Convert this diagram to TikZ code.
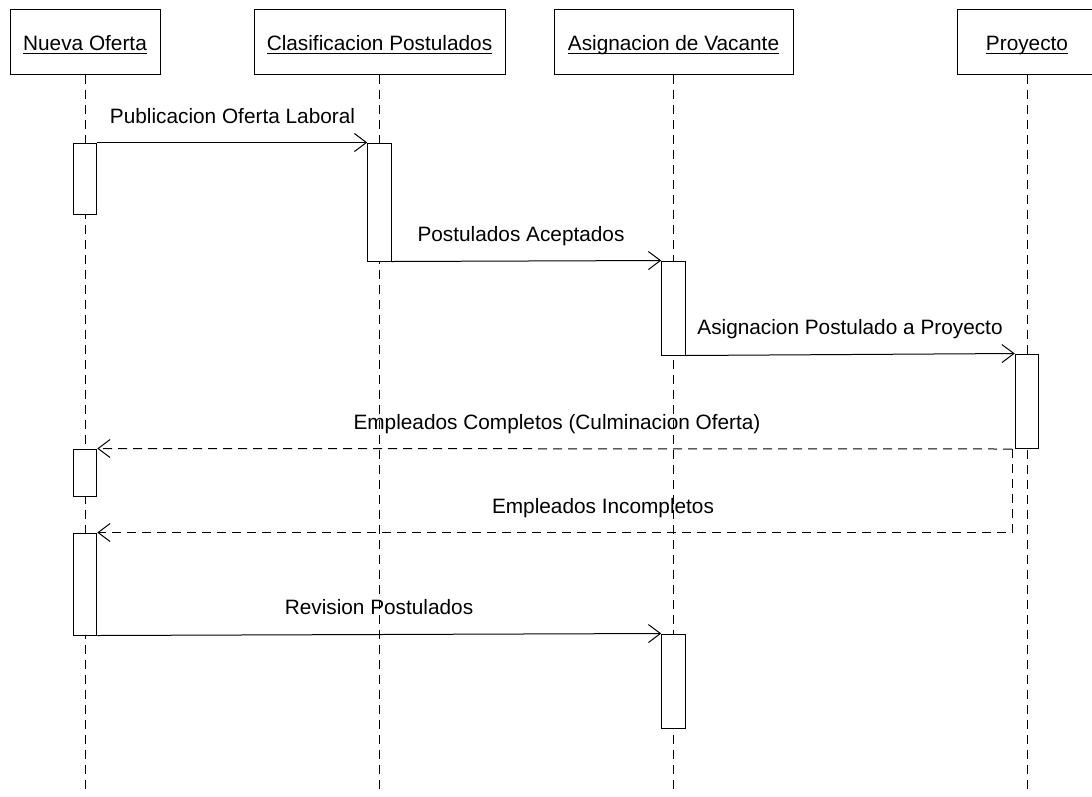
\documentclass[tikz,border=0pt]{standalone}
\usepackage{fontspec}
\setmainfont{Liberation Sans}
\usetikzlibrary{arrows.meta}
\newcommand\myul[1]{\setbox0\hbox{#1}\rlap{\rule[-3.8pt]{\wd0}{1.1pt}}\box0}
\begin{document}
\begin{tikzpicture}[x=1pt,y=-1pt,
  every node/.style={font=\fontsize{20.8}{25}\selectfont},
  head/.style={draw, line width=1pt, inner sep=0pt, text height=17pt, text depth=0pt, minimum height=65pt},
  act/.style={draw, line width=1pt, fill=white, inner sep=0pt, minimum width=23.5pt},
  life/.style={line width=1pt, dash pattern=on 9pt off 6pt},
  msg/.style={line width=1pt, -{Straight Barb[length=12pt,width=18pt,line width=1pt]}},
  ret/.style={msg, dash pattern=on 9pt off 6pt},
  lbl/.style={anchor=base, inner sep=0pt}
]
\useasboundingbox (0,0) rectangle (1092,796);
% headers
\node[head, minimum width=150pt] (hN) at (85,41.5) {\myul{Nueva Oferta}};
\node[head, minimum width=251pt] (hC) at (379.5,41.5) {\myul{Clasificacion Postulados}};
\node[head, minimum width=239pt] (hA) at (673.5,41.5) {\myul{Asignacion de Vacante}};
\node[head, minimum width=140pt] (hP) at (1027,41.5) {\myul{Proyecto}};
% lifeline ends
\coordinate (eN) at (85,790);
\coordinate (eC) at (379.5,790);
\coordinate (eA) at (673.5,790);
\coordinate (eP) at (1027,790);
\draw[life] (hN.south) -- (eN);
\draw[life] (hC.south) -- (eC);
\draw[life] (hA.south) -- (eA);
\draw[life] (hP.south) -- (eP);
% activations
\node[act, minimum height=71pt] (a1) at (85,178.5) {};
\node[act, minimum height=118pt] (c1) at (379.5,202) {};
\node[act, minimum height=94pt] (v1) at (673.5,308) {};
\node[act, minimum height=94pt] (p1) at (1027,401) {};
\node[act, minimum height=47pt] (a2) at (85,472.5) {};
\node[act, minimum height=102pt] (a3) at (85,584) {};
\node[act, minimum height=94pt] (v2) at (673.5,681) {};
% messages
\draw[msg] (a1.north east) -- (c1.north west);
\draw[msg] (c1.south east) -- (v1.north west);
\draw[msg] (v1.south east) -- (p1.north west);
\coordinate (r) at (1012,449);
\draw[ret] (r) -- (a2.north east);
\draw[ret] (r) |- (a3.north east);
\draw[msg] (a3.south east) -- (v2.north west);
% labels
\node[lbl] (l1) at (232.5,123) {Publicacion Oferta Laboral};
\node[lbl] (l2) at (521,241) {Postulados Aceptados};
\node[lbl] (l3) at (850,334) {Asignacion Postulado a Proyecto};
\node[lbl] (l4) at (557,429) {Empleados Completos (Culminacion Oferta)};
\node[lbl] (l5) at (603,513) {Empleados Incompletos};
\node[lbl] (l6) at (379,614) {Revision Postulados};
\end{tikzpicture}
\end{document}
